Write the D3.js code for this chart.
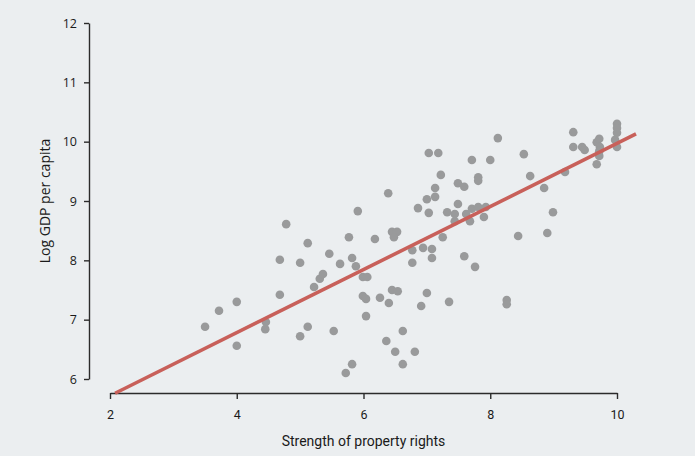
<!DOCTYPE html>
<html>
<head>
<meta charset="utf-8">
<script src="https://cdn.jsdelivr.net/npm/d3@7"></script>
<style>
  html, body { margin: 0; padding: 0; background: #ebeef0; }
  svg { display: block; }
</style>
</head>
<body>
<svg id="chart" width="695" height="456"></svg>
<script>
// Strength of property rights (x) and Log GDP per capita (y)
const propertyRights = [
  3.50, 3.72, 4.00, 4.00, 4.46, 4.45, 4.68, 4.68, 4.78, 5.00,
  5.00, 5.12, 5.12, 5.22, 5.31, 5.36, 5.46, 5.53, 5.63, 5.72,
  5.77, 5.82, 5.82, 5.91, 5.88, 5.99, 5.99, 6.04, 6.06, 6.04,
  6.18, 6.26, 6.36, 6.39, 6.40, 6.45, 6.45, 6.50, 6.53, 6.48,
  6.54, 6.62, 6.62, 6.77, 6.77, 6.81, 6.86, 6.91, 6.94, 7.00,
  7.00, 7.03, 7.03, 7.08, 7.08, 7.13, 7.13, 7.18, 7.22, 7.25,
  7.32, 7.35, 7.44, 7.44, 7.49, 7.49, 7.59, 7.59, 7.62, 7.68,
  7.71, 7.71, 7.76, 7.81, 7.81, 7.81, 7.90, 7.93, 8.00, 8.12,
  8.26, 8.26, 8.44, 8.53, 8.63, 8.85, 8.90, 8.99, 9.18, 9.31,
  9.31, 9.45, 9.49, 9.68, 9.72, 9.73, 9.72, 9.72, 9.68, 10.00,
  10.00, 10.00, 9.97, 10.00
];
const logGdp = [
  6.88, 7.15, 7.30, 6.56, 6.96, 6.84, 8.01, 7.42, 8.61, 7.96,
  6.72, 8.29, 6.88, 7.55, 7.69, 7.77, 8.11, 6.81, 7.94, 6.10,
  8.39, 6.25, 8.04, 8.83, 7.90, 7.40, 7.72, 7.06, 7.72, 7.35,
  8.36, 7.37, 6.64, 9.13, 7.28, 7.50, 8.48, 6.46, 8.48, 8.39,
  7.48, 6.81, 6.25, 8.17, 7.96, 6.46, 8.88, 7.23, 8.21, 9.03,
  7.45, 9.81, 8.80, 8.19, 8.04, 9.22, 9.07, 9.81, 9.44, 8.39,
  8.81, 7.30, 8.66, 8.78, 8.95, 9.30, 9.24, 8.07, 8.78, 8.66,
  9.69, 8.87, 7.89, 8.90, 9.40, 9.34, 8.73, 8.90, 9.69, 10.06,
  7.33, 7.26, 8.41, 9.79, 9.42, 9.22, 8.46, 8.81, 9.49, 10.16,
  9.91, 9.91, 9.86, 9.99, 10.05, 9.91, 9.84, 9.76, 9.62, 10.30,
  10.23, 10.15, 10.03, 9.91
];
// Fitted regression line end points
const fitX = [2.08, 10.30];
const fitY = [5.76, 10.13];

const xTicks = [2, 4, 6, 8, 10];
const yTicks = [6, 7, 8, 9, 10, 11, 12];
const xTitle = "Strength of property rights";
const yTitle = "Log GDP per capita";

const svg = d3.select("#chart");
svg.append("rect").attr("width", 695).attr("height", 456).attr("fill", "#ebeef0");

const x = d3.scaleLinear().domain([2, 10]).range([110, 617]);
const y = d3.scaleLinear().domain([6, 12]).range([379, 23]);

const axisColor = "#2b2b2b";

// X axis
const gx = svg.append("g")
  .attr("transform", "translate(0,393)")
  .call(d3.axisBottom(x).tickValues(xTicks).tickSize(6).tickSizeOuter(0).tickFormat(d3.format("d")));
gx.select(".domain").attr("stroke", axisColor).attr("stroke-width", 1.4);
gx.selectAll(".tick line").attr("stroke", axisColor).attr("stroke-width", 1.4);
gx.selectAll(".tick text")
  .attr("fill", "#1a1a1a")
  .attr("font-family", "Roboto, 'Open Sans', sans-serif")
  .attr("font-size", 12.5)
  .attr("dy", "1.35em");

// Y axis
const gy = svg.append("g")
  .attr("transform", "translate(89,0)")
  .call(d3.axisLeft(y).tickValues(yTicks).tickSize(5).tickSizeOuter(0).tickFormat(d3.format("d")));
gy.select(".domain").attr("stroke", axisColor).attr("stroke-width", 1.4);
gy.selectAll(".tick line").attr("stroke", axisColor).attr("stroke-width", 1.4);
gy.selectAll(".tick text")
  .attr("fill", "#1a1a1a")
  .attr("font-family", "'Open Sans', sans-serif")
  .attr("font-size", 12.5)
  .attr("x", -12);

// Titles
svg.append("text")
  .attr("x", x(6)).attr("y", 446)
  .attr("text-anchor", "middle")
  .attr("font-family", "Roboto, 'Open Sans', sans-serif")
  .attr("font-size", 14)
  .attr("fill", "#1a1a1a")
  .text(xTitle);

svg.append("text")
  .attr("transform", `translate(50,${y(9) - 0}) rotate(-90)`)
  .attr("text-anchor", "middle")
  .attr("font-family", "'Open Sans', sans-serif")
  .attr("font-size", 14)
  .attr("fill", "#1a1a1a")
  .text(yTitle);

// Points
const pts = propertyRights.map((v, i) => ({ x: v, y: logGdp[i] }));
svg.append("g")
  .selectAll("circle")
  .data(pts)
  .join("circle")
  .attr("cx", d => x(d.x))
  .attr("cy", d => y(d.y))
  .attr("r", 4.3)
  .attr("fill", "#999a9b");

// Fit line
const fit = fitX.map((v, i) => [v, fitY[i]]);
svg.append("path")
  .datum(fit)
  .attr("d", d3.line().x(d => x(d[0])).y(d => y(d[1])))
  .attr("fill", "none")
  .attr("stroke", "#c8605a")
  .attr("stroke-width", 3.6);
</script>
</body>
</html>
